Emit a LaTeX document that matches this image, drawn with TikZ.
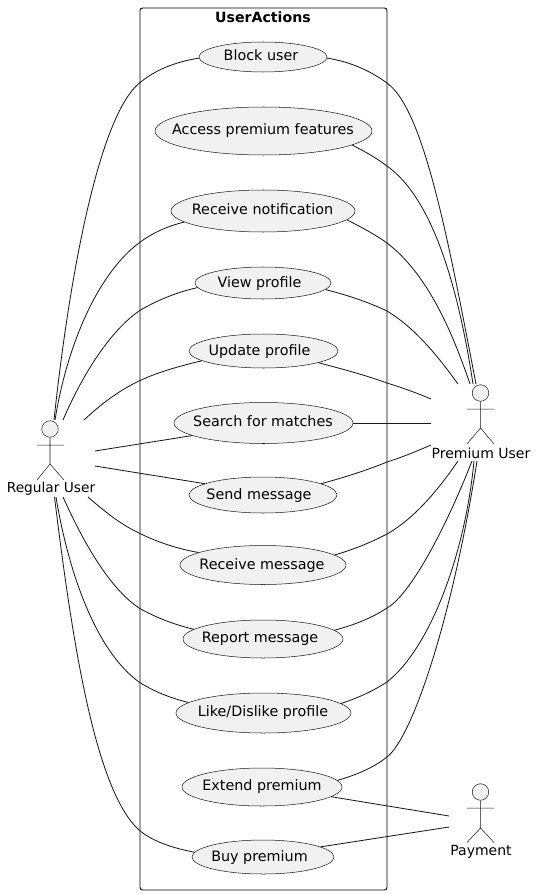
\documentclass[tikz,border=0pt]{standalone}
\usepackage{fontspec}
\setmainfont{DejaVu Sans}
\usetikzlibrary{shapes.geometric}
\definecolor{ufill}{HTML}{F1F1F1}
\definecolor{ustroke}{HTML}{181818}
\tikzset{
  uc/.style={ellipse,draw=ustroke,line width=0.38pt,fill=ufill,inner sep=0pt},
  uclabel/.style={anchor=base,inner sep=0pt,font=\fontsize{10.75}{12}\selectfont,text=black},
  actorhead/.style={circle,draw=ustroke,line width=0.38pt,fill=ufill,minimum size=12.4pt,inner sep=0pt},
  actorline/.style={draw=ustroke,line width=0.38pt},
  actorlabel/.style={inner sep=0pt,font=\fontsize{10.5}{12}\selectfont,text=black},
  conn/.style={draw=ustroke,line width=0.62pt},
  frame/.style={draw=black,line width=0.7pt,rounded corners=1.9pt}
}
\begin{document}
\begin{tikzpicture}[x=0.75pt,y=-0.75pt]
\useasboundingbox (0,0) rectangle (536,895);
\fill[white] (0,0) rectangle (536,895);
\node[frame,minimum width=247*0.75pt,minimum height=882*0.75pt,inner sep=0pt] (box) at (263.5,449) {};
\node[inner sep=0pt,font=\bfseries\fontsize{10.6}{12}\selectfont] (boxt) at (263,17) {UserActions};
% free ends of connectors near actors
\coordinate (ra) at (54,420); \coordinate (rb) at (55,420); \coordinate (rc) at (63,420); \coordinate (rd) at (84,420);
\coordinate (re) at (95,451); \coordinate (rf) at (95,466); \coordinate (rg) at (88,497); \coordinate (rh) at (63,497);
\coordinate (ri) at (56,497); \coordinate (rj) at (54.5,497);
\coordinate (pa) at (476,384); \coordinate (pb) at (473,384); \coordinate (pc) at (470,384); \coordinate (pd) at (458,384);
\coordinate (pe) at (431,399); \coordinate (pf) at (431,423); \coordinate (pg) at (431,445); \coordinate (ph) at (458,461);
\coordinate (pi) at (472,461); \coordinate (pj) at (474,461); \coordinate (pk) at (477,461);
\coordinate (ya) at (449,816); \coordinate (yb) at (449,827);
% use cases
\node[uc,minimum width=128*0.75pt,minimum height=30*0.75pt] (blk) at (263,57) {};
\node[uclabel] (blkt) at (261,61) {Block user};
\node[uc,minimum width=217*0.75pt,minimum height=48*0.75pt] (acc) at (263.5,131) {};
\node[uclabel] (acct) at (263,135) {Access premium features};
\node[uc,minimum width=184*0.75pt,minimum height=42*0.75pt] (ntf) at (263,211) {};
\node[uclabel] (ntft) at (262.5,214) {Receive notification};
\node[uc,minimum width=136*0.75pt,minimum height=32*0.75pt] (viw) at (263,283) {};
\node[uclabel] (viwt) at (259.5,287) {View profile};
\node[uc,minimum width=149*0.75pt,minimum height=34*0.75pt] (upd) at (263.5,351) {};
\node[uclabel] (updt) at (259.5,355) {Update profile};
\node[uc,minimum width=179*0.75pt,minimum height=41*0.75pt] (sch) at (263.5,423) {};
\node[uclabel] (scht) at (263,426) {Search for matches};
\node[uc,minimum width=148*0.75pt,minimum height=36*0.75pt] (snd) at (263,495) {};
\node[uclabel] (sndt) at (259,499) {Send message};
\node[uc,minimum width=166*0.75pt,minimum height=39*0.75pt] (rcv) at (263,565) {};
\node[uclabel] (rcvt) at (262,569) {Receive message};
\node[uc,minimum width=160*0.75pt,minimum height=38*0.75pt] (rep) at (263,639) {};
\node[uclabel] (rept) at (260,642) {Report message};
\node[uc,minimum width=175*0.75pt,minimum height=40*0.75pt] (lik) at (263.5,713) {};
\node[uclabel] (likt) at (263,716) {Like/Dislike profile};
\node[uc,minimum width=160*0.75pt,minimum height=38*0.75pt] (ext) at (262,787) {};
\node[uclabel] (extt) at (262,790) {Extend premium};
\node[uc,minimum width=142*0.75pt,minimum height=34*0.75pt] (buy) at (263,857) {};
\node[uclabel] (buyt) at (259.5,861) {Buy premium};
% actors
\node[actorhead] (ru) at (50,429) {};
\draw[actorline] (ru.south) -- (50,464) -- (37,480) (50,464) -- (64,480) (37,445) -- (64,445);
\node[actorlabel,font=\fontsize{10.3}{12}\selectfont] (rul) at (51,489) {Regular User};
\node[actorhead] (pu) at (480.5,393) {};
\draw[actorline] (pu.south) -- (480.5,428) -- (467,444) (480.5,428) -- (494,444) (467,409) -- (494,409);
\node[actorlabel] (pul) at (481,453) {Premium User};
\node[actorhead] (pay) at (480.5,792) {};
\draw[actorline] (pay.south) -- (480.5,828) -- (467,842.5) (480.5,828) -- (494,842.5) (467,808) -- (494,808);
\node[actorlabel] (payl) at (481,852) {Payment};
% left connectors
\draw[conn] (blk.181) .. controls (175,62) and (155,70) .. (139.5,83) .. controls (100,115) and (70,270) .. (ra);
\draw[conn] (ntf.188) .. controls (168,226) and (152,233) .. (139,243) .. controls (100,272) and (68,340) .. (rb);
\draw[conn] (viw.184.5) .. controls (178,292) and (157,300) .. (139,311) .. controls (105,335) and (78,385) .. (rc);
\draw[conn] (upd.189) .. controls (180,366) and (158,372) .. (139,381) .. controls (118,391) and (100,405) .. (rd);
\draw[conn] (sch.190) -- (re);
\draw[conn] (snd.169) -- (rf);
\draw[conn] (rcv.169.5) .. controls (178,549) and (157,542) .. (139,533) .. controls (120,524) and (104,511) .. (rg);
\draw[conn] (rep.172) .. controls (172,624) and (155,617) .. (139,608) .. controls (105,585) and (78,530) .. (rh);
\draw[conn] (lik.172.6) .. controls (170,698) and (153,691) .. (139,682) .. controls (95,650) and (68,570) .. (ri);
\draw[conn] (buy.176.7) .. controls (172,848) and (152,841) .. (139,830) .. controls (95,790) and (72,640) .. (rj);
% right connectors
\draw[conn] (blk.-1) .. controls (352,62) and (372,72) .. (387,83) .. controls (425,110) and (450,250) .. (pa);
\draw[conn] (acc.-9.3) .. controls (362,150) and (375,157) .. (387,166) .. controls (432,198) and (458,285) .. (pb);
\draw[conn] (ntf.-6.7) .. controls (357,225) and (373,233) .. (387,243) .. controls (425,272) and (450,325) .. (pc);
\draw[conn] (viw.-6.5) .. controls (347,295) and (368,302) .. (387,311) .. controls (415,328) and (437,355) .. (pd);
\draw[conn] (upd.-12) .. controls (342,369) and (365,375) .. (387,383) .. controls (403,388) and (417,393) .. (pe);
\draw[conn] (sch.east) -- (pf);
\draw[conn] (snd.11.4) .. controls (342,478) and (365,471) .. (387,462) .. controls (403,457) and (417,451) .. (pg);
\draw[conn] (rcv.8.1) .. controls (352,550) and (370,543) .. (387,534) .. controls (415,518) and (438,490) .. (ph);
\draw[conn] (rep.7.1) .. controls (354,625) and (372,618) .. (387,608) .. controls (410,595) and (445,530) .. (pi);
\draw[conn] (lik.7.4) .. controls (358,698) and (373,691) .. (387,682) .. controls (430,648) and (465,555) .. (pj);
\draw[conn] (ext.5.2) .. controls (356,775) and (373,768) .. (387,757) .. controls (412,738) and (452,620) .. (pk);
\draw[conn] (ext.-8.5) -- (ya);
\draw[conn] (buy.10) -- (yb);
\end{tikzpicture}
\end{document}
